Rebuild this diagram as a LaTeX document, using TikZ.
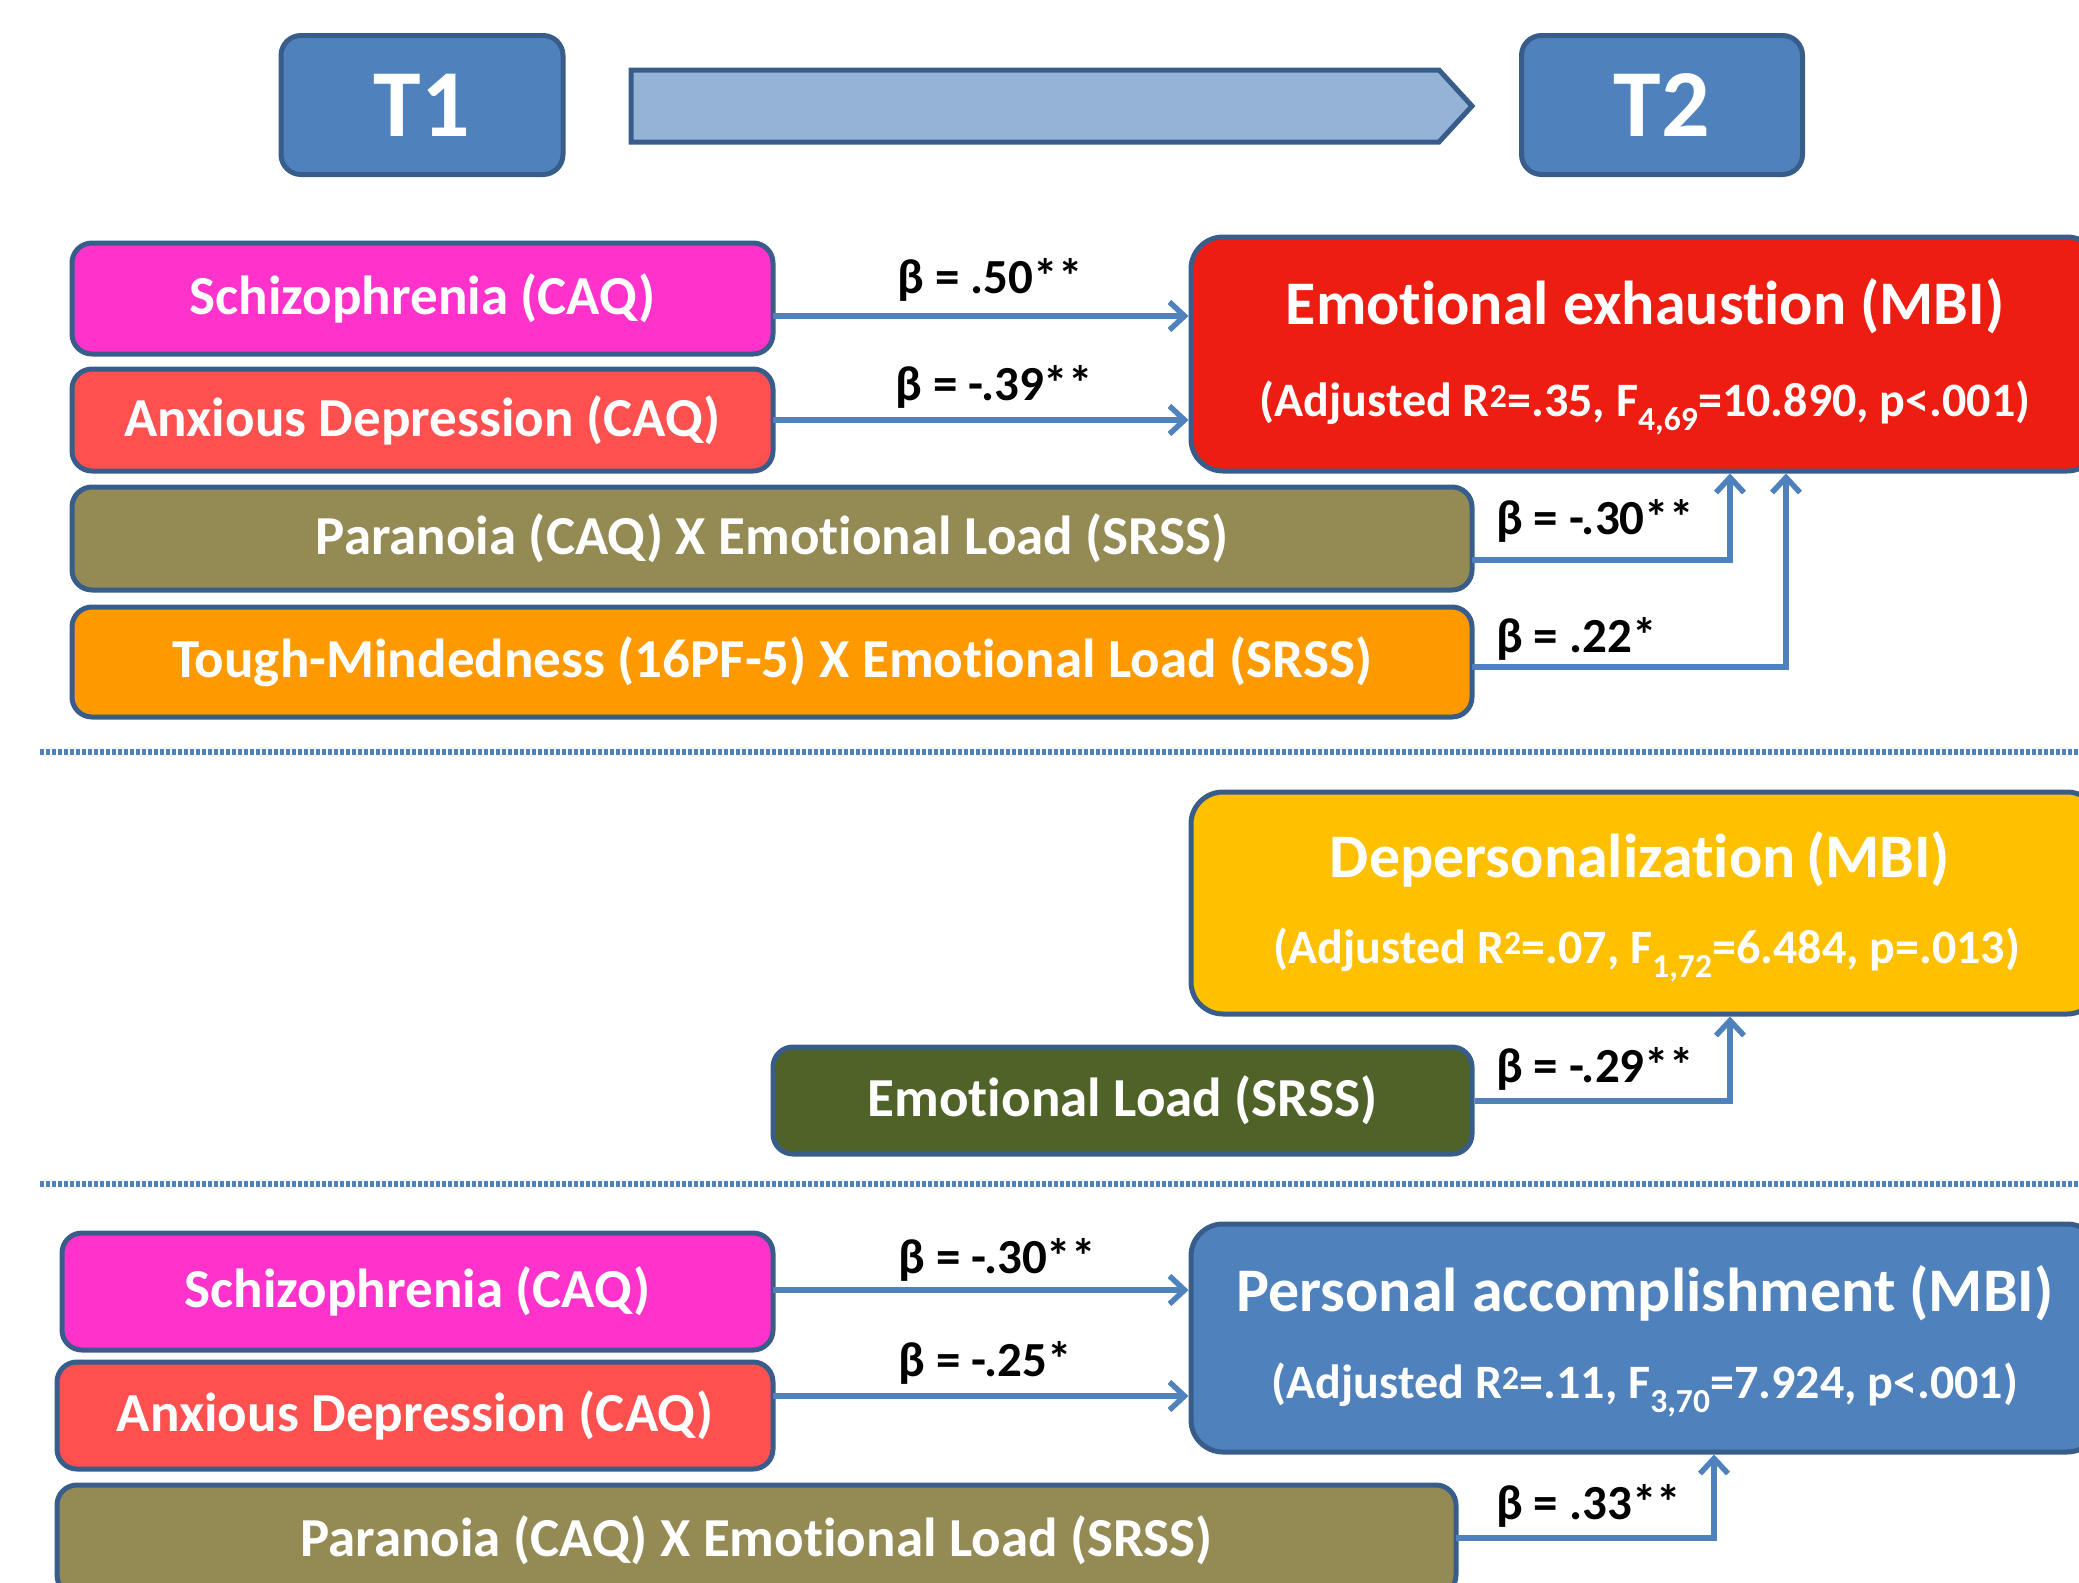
\documentclass[tikz,border=0pt]{standalone}
\usepackage{fontspec}
\setmainfont{Carlito}[Ligatures={NoCommon}]
\usetikzlibrary{arrows.meta,calc}
\definecolor{tblue}{HTML}{4F81BD}
\definecolor{bord}{HTML}{385D8A}
\definecolor{lblue}{HTML}{95B3D7}
\definecolor{cmag}{HTML}{FF33CC}
\definecolor{cred}{HTML}{FF5050}
\definecolor{colive}{HTML}{948A54}
\definecolor{corange}{HTML}{FF9900}
\definecolor{cee}{HTML}{EE1D12}
\definecolor{cyel}{HTML}{FFC000}
\definecolor{cgreen}{HTML}{4F6228}
\tikzset{
  box/.style={draw=bord, line width=5pt, rounded corners=20pt, inner sep=0pt,
    text=white, font=\fontsize{55}{60}\selectfont\bfseries},
  bigbox/.style={box, rounded corners=32pt},
  tbox/.style={box, font=\fontsize{96}{100}\selectfont\bfseries, fill=tblue},
  conn/.style={draw=tblue, line width=6pt, -{Straight Barb[length=15pt,width=28pt,line width=5.5pt]}},
  beta/.style={font=\fontsize{49}{52}\selectfont\bfseries, text=black, inner sep=0pt},
  ttl/.style={font=\fontsize{62}{66}\selectfont\bfseries, text=white, inner sep=0pt},
  sub/.style={font=\fontsize{48}{52}\selectfont\bfseries, text=white, inner sep=0pt},
  sep/.style={draw=tblue, line width=6pt, dash pattern=on 3.5pt off 2.5pt}
}
\begin{document}
\begin{tikzpicture}[x=1pt,y=-1pt]
\useasboundingbox (0,0) rectangle (2079,1582);
\clip (0,0) rectangle (2079,1582);
% header
\node[tbox, minimum width=282, minimum height=139] (t1) at (422,105) {T1};
\node[tbox, minimum width=281, minimum height=139] (t2) at (1662,105) {T2};
\draw[draw=bord, fill=lblue, line width=5pt, line join=miter] (631,70) -- (1439,70) -- (1472,106) -- (1439,142) -- (631,142) -- cycle;
% section 1
\node[box, fill=cmag, minimum width=701, minimum height=111] (s1) at (422.5,298.5) {Schizophrenia (CAQ)};
\node[box, fill=cred, minimum width=701, minimum height=102] (a1) at (422.5,420) {Anxious Depression (CAQ)};
\node[box, fill=colive, minimum width=1400, minimum height=103] (p1) at (772,538.5) {Paranoia (CAQ) X Emotional Load (SRSS)};
\node[box, fill=corange, minimum width=1400, minimum height=110] (tm) at (772,662) {Tough-Mindedness (16PF-5) X Emotional Load (SRSS)};
\node[bigbox, fill=cee, minimum width=908, minimum height=234] (ee) at (1645,354) {};
\node[ttl] (eet) at (1645,306) {Emotional exhaustion (MBI)};
\node[sub] (ees) at (1645,408) {(Adjusted R\textsuperscript{2}=.35, F\textsubscript{4,69}=10.890, p<.001)};
\coordinate (c1) at (773,316);
\coordinate (c2) at (773,420);
\draw[conn] (c1) -- (c1 -| ee.west);
\draw[conn] (c2) -- (c2 -| ee.west);
\coordinate (c3) at (1472,560);
\coordinate (c4) at (1472,667);
\draw[conn] (c3) -| ([xshift=85pt]ee.south);
\draw[conn] (c4) -| ([xshift=141pt]ee.south);
\node[beta] (b1) at (990,280) {β = .50**};
\node[beta] (b2) at (994,387) {β = -.39**};
\node[beta, anchor=west] (b3) at (1496,521) {β = -.30**};
\node[beta, anchor=west] (b4) at (1496,639) {β = .22*};
\coordinate (d1a) at (40,752);
\coordinate (d1b) at (2079,752);
\draw[sep] (d1a) -- (d1b);
% section 2
\node[bigbox, fill=cyel, minimum width=908, minimum height=222] (dp) at (1645,903) {};
\node[ttl] (dpt) at (1640,859) {Depersonalization\,(MBI)};
\node[sub] (dps) at (1647,955) {(Adjusted R\textsuperscript{2}=.07, F\textsubscript{1,72}=6.484, p=.013)};
\node[box, fill=cgreen, minimum width=699, minimum height=107] (el) at (1122.5,1100.5) {Emotional Load (SRSS)};
\draw[conn] (el.east) -| ([xshift=85pt]dp.south);
\node[beta, anchor=west] (b5) at (1496,1069) {β = -.29**};
\coordinate (d2a) at (40,1184);
\coordinate (d2b) at (2079,1184);
\draw[sep] (d2a) -- (d2b);
% section 3
\node[box, fill=cmag, minimum width=711, minimum height=117] (s3) at (417.5,1291.5) {Schizophrenia (CAQ)};
\node[box, fill=cred, minimum width=716, minimum height=107] (a3) at (415,1415.5) {Anxious Depression (CAQ)};
\node[box, fill=colive, minimum width=1399, minimum height=110] (p3) at (756.5,1540) {Paranoia (CAQ) X Emotional Load (SRSS)};
\node[bigbox, fill=tblue, minimum width=908, minimum height=228] (pa) at (1645,1338) {};
\node[ttl] (pat) at (1645,1293) {Personal accomplishment (MBI)};
\node[sub] (pas) at (1645,1390) {(Adjusted R\textsuperscript{2}=.11, F\textsubscript{3,70}=7.924, p<.001)};
\coordinate (c5) at (773,1290);
\coordinate (c6) at (773,1396);
\draw[conn] (c5) -- (c5 -| pa.west);
\draw[conn] (c6) -- (c6 -| pa.west);
\coordinate (c7) at (1456,1538);
\draw[conn] (c7) -| ([xshift=69pt]pa.south);
\node[beta] (b6) at (997,1260) {β = -.30**};
\node[beta] (b7) at (985,1363) {β = -.25*};
\node[beta, anchor=west] (b8) at (1496,1506) {β = .33**};
\end{tikzpicture}
\end{document}
